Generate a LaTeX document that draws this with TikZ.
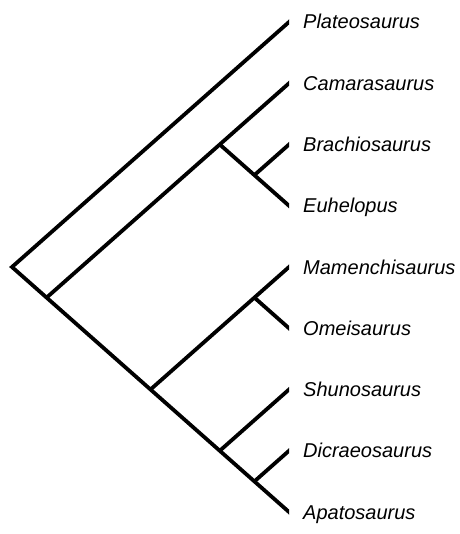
\documentclass[tikz,border=0pt]{standalone}
\usepackage{fontspec}
\setmainfont{Liberation Sans}
\usetikzlibrary{calc}
\begin{document}
\begin{tikzpicture}[x=1pt,y=-1pt,
  branch/.style={line width=3.8pt,line cap=butt,line join=miter},
  taxon/.style={anchor=base west,inner sep=0pt,font=\fontsize{20}{24}\selectfont\itshape}]
\useasboundingbox (0,0) rectangle (459,534);
% leaf tips
\coordinate (tP) at (289,22);
\coordinate (tC) at (289,83.25);
\coordinate (tB) at (289,144.5);
\coordinate (tE) at (289,205.75);
\coordinate (tM) at (289,267);
\coordinate (tO) at (289,328.25);
\coordinate (tS) at (289,389.5);
\coordinate (tD) at (289,450.75);
\coordinate (tA) at (289,512);
% internal nodes
\coordinate (root) at (12,267);
\coordinate (n1) at (46.6,297.6);
\coordinate (n2) at (219.8,144.5);
\coordinate (n3) at (254.4,175.1);
\coordinate (n4) at (150.5,389.5);
\coordinate (n5) at (254.4,297.6);
\coordinate (n6) at (219.8,450.75);
\coordinate (n7) at (254.4,481.4);
\begin{scope}
\clip (0,0) rectangle (289,534);
\draw[branch] ($(tP)+(3,-2.65)$) -- (root) -- ($(tA)+(3,2.65)$);
\draw[branch] (n1) -- ($(tC)+(3,-2.65)$);
\draw[branch] (n2) -- ($(tE)+(3,2.65)$);
\draw[branch] (n3) -- ($(tB)+(3,-2.65)$);
\draw[branch] (n4) -- ($(tM)+(3,-2.65)$);
\draw[branch] (n5) -- ($(tO)+(3,2.65)$);
\draw[branch] (n6) -- ($(tS)+(3,-2.65)$);
\draw[branch] (n7) -- ($(tD)+(3,-2.65)$);
\end{scope}
\node[taxon] (lP) at (303,29) {Plateosaurus};
\node[taxon] (lC) at (303,90.25) {Camarasaurus};
\node[taxon] (lB) at (303,151.5) {Brachiosaurus};
\node[taxon] (lE) at (303,212.75) {Euhelopus};
\node[taxon] (lM) at (303,274) {Mamenchisaurus};
\node[taxon] (lO) at (303,335.25) {Omeisaurus};
\node[taxon] (lS) at (303,396.5) {Shunosaurus};
\node[taxon] (lD) at (303,457.75) {Dicraeosaurus};
\node[taxon] (lA) at (303,519) {Apatosaurus};
\end{tikzpicture}
\end{document}
